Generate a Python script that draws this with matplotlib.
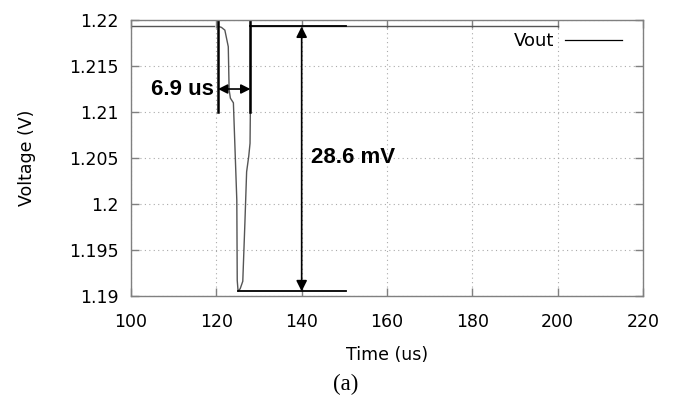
import matplotlib
matplotlib.use("Agg")
import matplotlib.pyplot as plt
from matplotlib.lines import Line2D

# ---- data ----
pre_t = [100, 101.5, 103, 104.5, 106, 107.5, 109, 110.5, 112, 113.5, 115, 116.5, 118, 119.5]
pre_v = [1.2193, 1.2194, 1.2193, 1.2194, 1.2193, 1.2194, 1.2193, 1.2194, 1.2193, 1.2194,
         1.2193, 1.2194, 1.2193, 1.2194]
tr_t = [120.5, 121.2, 122.0, 122.8, 123.0, 123.3, 124.0, 124.8, 124.9, 125.1,
        125.6, 126.2, 126.7, 127.1, 127.6, 127.9, 128.0, 128.05]
tr_v = [1.2193, 1.2192, 1.2189, 1.2171, 1.2124, 1.2115, 1.2110, 1.2004, 1.1917, 1.1905,
        1.1908, 1.1916, 1.1980, 1.2035, 1.2052, 1.2066, 1.2113, 1.2193]
post_t = [128.05, 130, 132, 134, 136, 138, 140, 142, 144, 146, 148, 150, 152, 154, 156,
          158, 160, 162, 164, 166, 168, 170, 172, 174, 176, 178, 180, 182, 184, 186,
          188, 190, 192, 194, 196, 198, 200]
post_v = [1.2193, 1.2194, 1.2193, 1.2194, 1.2193, 1.2194, 1.2193, 1.2194, 1.2193, 1.2194,
          1.2193, 1.2194, 1.2193, 1.2194, 1.2193, 1.2194, 1.2193, 1.2194, 1.2193, 1.2194,
          1.2193, 1.2194, 1.2193, 1.2194, 1.2193, 1.2194, 1.2193, 1.2194, 1.2193, 1.2194,
          1.2193, 1.2194, 1.2193, 1.2194, 1.2193, 1.2194, 1.2193]

x_ticks = [100, 120, 140, 160, 180, 200, 220]
y_ticks = [1.19, 1.195, 1.2, 1.205, 1.21, 1.215, 1.22]
y_labels = ["1.19", "1.195", "1.2", "1.205", "1.21", "1.215", "1.22"]

# annotation values
t_start, t_end = 120.4, 128.0
v_top, v_bottom = 1.2193, 1.1905
dt_label = "6.9 us"
dv_label = "28.6 mV"

fig = plt.figure(figsize=(6.78, 3.98), dpi=100)
ax = fig.add_axes([0.1932, 0.2563, 0.7552, 0.6934])

line_col = "#555555"
ax.plot(pre_t, pre_v, color=line_col, lw=1.0, drawstyle="steps-post")
ax.plot(tr_t, tr_v, color=line_col, lw=1.0)
ax.plot(post_t, post_v, color=line_col, lw=1.0, drawstyle="steps-post")

# legend
h = Line2D([], [], color="black", lw=0.9)
ax.legend([h], ["Vout"], loc="upper right", bbox_to_anchor=(622 / 678, 1 - 32 / 398),
          bbox_transform=fig.transFigure, frameon=False, borderpad=0, borderaxespad=0,
          markerfirst=False, handlelength=3.15, fontsize=13, handletextpad=0.6)

# annotations
ax.plot([t_start, t_start], [1.21, 1.22], color="black", lw=1.8)
ax.plot([t_end, t_end], [1.21, 1.22], color="black", lw=1.8)
ax.annotate("", xy=(t_start, 1.2125), xytext=(t_end, 1.2125),
            arrowprops=dict(arrowstyle="<|-|>", color="black", lw=1.2,
                            mutation_scale=14, shrinkA=0, shrinkB=0))
ax.text(t_start - 0.9, 1.2125, dt_label, ha="right", va="center", fontsize=16,
        fontweight="bold", family="Liberation Sans")
ax.plot([t_end, 150.3], [v_top, v_top], color="black", lw=1.3)
ax.plot([125.0, 150.3], [v_bottom, v_bottom], color="black", lw=1.3)
ax.annotate("", xy=(140, v_top), xytext=(140, v_bottom),
            arrowprops=dict(arrowstyle="<|-|>", color="black", lw=1.2,
                            mutation_scale=16, shrinkA=0, shrinkB=0))
ax.text(142.3, 1.2051, dv_label, ha="left", va="center", fontsize=16,
        fontweight="bold", family="Liberation Sans")

ax.set_xlim(100, 220)
ax.set_ylim(1.19, 1.22)
ax.set_xticks(x_ticks)
ax.set_yticks(y_ticks)
ax.set_yticklabels(y_labels)
ax.grid(True, color="#aaaaaa", linestyle=(0, (1, 3)), lw=0.8)
ax.tick_params(direction="in", length=6, width=1, color="#808080", labelsize=12.5,
               top=True, right=True)
ax.tick_params(axis="y", pad=9)
ax.tick_params(axis="x", pad=12)
for s in ax.spines.values():
    s.set_color("#808080")
    s.set_linewidth(1.0)
ax.set_xlabel("Time (us)", fontsize=12.5, labelpad=11)
ax.set_ylabel("Voltage (V)", fontsize=12.5, labelpad=24)

fig.text(346 / 678, 1 - 384 / 398, "(a)", ha="center", va="center", fontsize=16.5,
         family="Liberation Serif")

fig.savefig("out.png", dpi=100)
